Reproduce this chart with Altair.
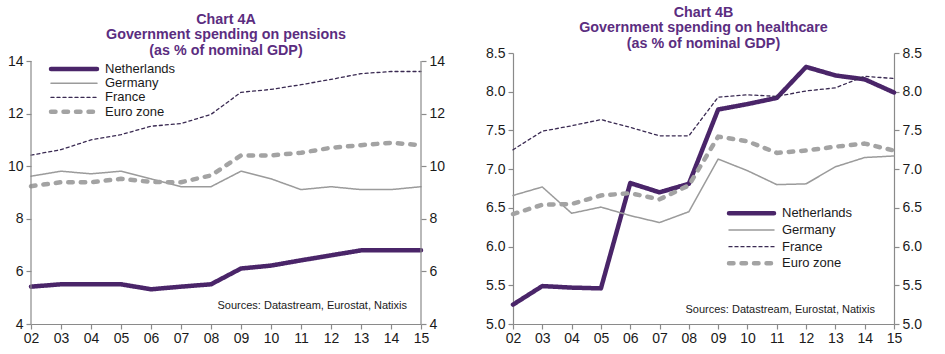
import altair as alt
import pandas as pd

years = ["02", "03", "04", "05", "06", "07", "08", "09", "10", "11", "12", "13", "14", "15"]
series = ["Netherlands", "Germany", "France", "Euro zone"]

# Chart 4A: pensions (% of nominal GDP)
pens_nl = [5.42, 5.51, 5.51, 5.51, 5.32, 5.42, 5.51, 6.11, 6.22, 6.42, 6.61, 6.80, 6.80, 6.80]
pens_de = [9.62, 9.81, 9.71, 9.81, 9.52, 9.22, 9.22, 9.81, 9.52, 9.11, 9.22, 9.11, 9.11, 9.22]
pens_fr = [10.42, 10.63, 11.00, 11.20, 11.52, 11.62, 11.97, 12.81, 12.92, 13.10, 13.30, 13.52, 13.60, 13.60]
pens_ez = [9.24, 9.39, 9.39, 9.52, 9.40, 9.39, 9.65, 10.41, 10.41, 10.51, 10.70, 10.80, 10.89, 10.80]

# Chart 4B: healthcare (% of nominal GDP)
hc_nl = [5.25, 5.49, 5.47, 5.46, 6.82, 6.70, 6.81, 7.77, 7.84, 7.92, 8.32, 8.21, 8.16, 7.99]
hc_de = [6.66, 6.77, 6.43, 6.51, 6.40, 6.31, 6.45, 7.13, 6.98, 6.80, 6.81, 7.03, 7.15, 7.17]
hc_fr = [7.25, 7.49, 7.56, 7.64, 7.54, 7.43, 7.43, 7.93, 7.96, 7.94, 8.01, 8.05, 8.20, 8.17]
hc_ez = [6.42, 6.54, 6.55, 6.66, 6.69, 6.61, 6.79, 7.42, 7.36, 7.21, 7.24, 7.29, 7.33, 7.24]

pens_ticks = [4, 6, 8, 10, 12, 14]
hc_ticks = [5.0, 5.5, 6.0, 6.5, 7.0, 7.5, 8.0, 8.5]

source_text = "Sources: Datastream, Eurostat, Natixis"

colors = ["#4A2569", "#9B9B9B", "#3A2A52", "#A3A3A3"]
dashes = [[1, 0], [1, 0], [3, 3], [4.5, 8]]
widths = [4.5, 1.5, 1.3, 4.5]

FONT = "Liberation Sans"
TITLE_COLOR = "#5B2D80"
AXIS_COLOR = "#8a8a8a"
H = 271


def make_df(vals):
    rows = []
    for s, v in zip(series, vals):
        for y, val in zip(years, v):
            rows.append({"year": y, "series": s, "value": val})
    return pd.DataFrame(rows)


def style_encodings():
    return dict(
        color=alt.Color("series:N", scale=alt.Scale(domain=series, range=colors), legend=None),
        strokeDash=alt.StrokeDash("series:N", scale=alt.Scale(domain=series, range=dashes), legend=None),
        strokeWidth=alt.StrokeWidth("series:N", scale=alt.Scale(type="ordinal", domain=series, range=widths), legend=None),
    )


def panel(df, ydomain, yvals, fmt, title_lines, w, leg_box, src_x, src_y, draw_domain):
    x = alt.X(
        "year:N", sort=years,
        scale=alt.Scale(type="point", padding=0),
        axis=alt.Axis(title=None, labelAngle=0, tickSize=5, labelPadding=2, grid=False),
    )
    yscale = alt.Scale(domain=ydomain, nice=False, zero=False)
    lines = alt.Chart(df).mark_line(strokeCap="round", strokeJoin="round").encode(
        x=x,
        y=alt.Y("value:Q", scale=yscale,
                axis=alt.Axis(orient="left", values=yvals, format=fmt, title=None, grid=False,
                              tickSize=5, labelPadding=3, domain=draw_domain)),
        **style_encodings(),
    )
    right = alt.Chart(df).mark_point(opacity=0).encode(
        x=x,
        y=alt.Y("value:Q", scale=yscale,
                axis=alt.Axis(orient="right", values=yvals, format=fmt, title=None, grid=False,
                              tickSize=5, labelPadding=3, domain=draw_domain)),
    )
    src = alt.Chart(pd.DataFrame({"t": [source_text]})).mark_text(
        align="right", baseline="middle", fontSize=11, font=FONT, color="#1a1a1a"
    ).encode(x=alt.value(src_x), y=alt.value(src_y), text="t:N")

    # hand-built legend (symbol line + label per series)
    lx0, lx1, ltx, ly0, ly1 = leg_box
    leg_df = pd.DataFrame({"series": series})
    leg_y = alt.Y("series:N", sort=series,
                  scale=alt.Scale(type="point", domain=series, range=[ly0, ly1], padding=0), axis=None)
    leg_lines = alt.Chart(leg_df).mark_rule(strokeCap="round").encode(
        x=alt.value(lx0), x2=alt.value(lx1), y=leg_y, **style_encodings()
    )
    leg_text = alt.Chart(leg_df).mark_text(
        align="left", baseline="middle", fontSize=13, font=FONT, color="#1a1a1a"
    ).encode(x=alt.value(ltx), y=leg_y, text="series:N")

    layers = [lines, right, src, leg_lines, leg_text]
    if not draw_domain:
        span = pd.DataFrame({"lo": [yvals[0]], "hi": [yvals[-1]]})
        for xv in (0, w):
            layers.append(
                alt.Chart(span).mark_rule(color=AXIS_COLOR, strokeWidth=1.2).encode(
                    x=alt.value(xv),
                    y=alt.Y("lo:Q", scale=yscale, axis=None),
                    y2="hi:Q",
                )
            )
    return alt.layer(*layers).resolve_scale(y="independent").properties(
        width=w, height=H,
        title=alt.Title(title_lines, font=FONT, fontSize=14.3, fontWeight="bold", color=TITLE_COLOR,
                        lineHeight=15.5, anchor="middle", offset=-5),
    )


# left panel: ticks 4..14 occupy 263px of the 271px plot height
pens_top = 14 + (H - 263) * 10 / 263
left = panel(make_df([pens_nl, pens_de, pens_fr, pens_ez]), [4, pens_top], pens_ticks, "d",
             ["Chart 4A", "Government spending on pensions", "(as % of nominal GDP)"],
             390, (20, 66, 74, 16, 58.7), 376, 253, False)
right = panel(make_df([hc_nl, hc_de, hc_fr, hc_ez]), [5, 8.5], hc_ticks, ".1f",
              ["Chart 4B", "Government spending on healthcare", "(as % of nominal GDP)"],
              381, (216, 261, 269, 160.3, 210.3), 362, 257, True)

chart = alt.hconcat(left, right, spacing=40).resolve_scale(
    color="independent", strokeDash="independent", strokeWidth="independent"
).configure_view(
    stroke=None
).configure_axis(
    domainColor=AXIS_COLOR, tickColor=AXIS_COLOR, labelColor="#1a1a1a", labelFont=FONT, labelFontSize=14,
    domainWidth=1.2, tickWidth=1.2,
).properties(padding={"left": 7, "top": 5, "right": 5, "bottom": 5}, background="white")

chart.save("out.html", embed_options={"renderer": "svg", "actions": False})
